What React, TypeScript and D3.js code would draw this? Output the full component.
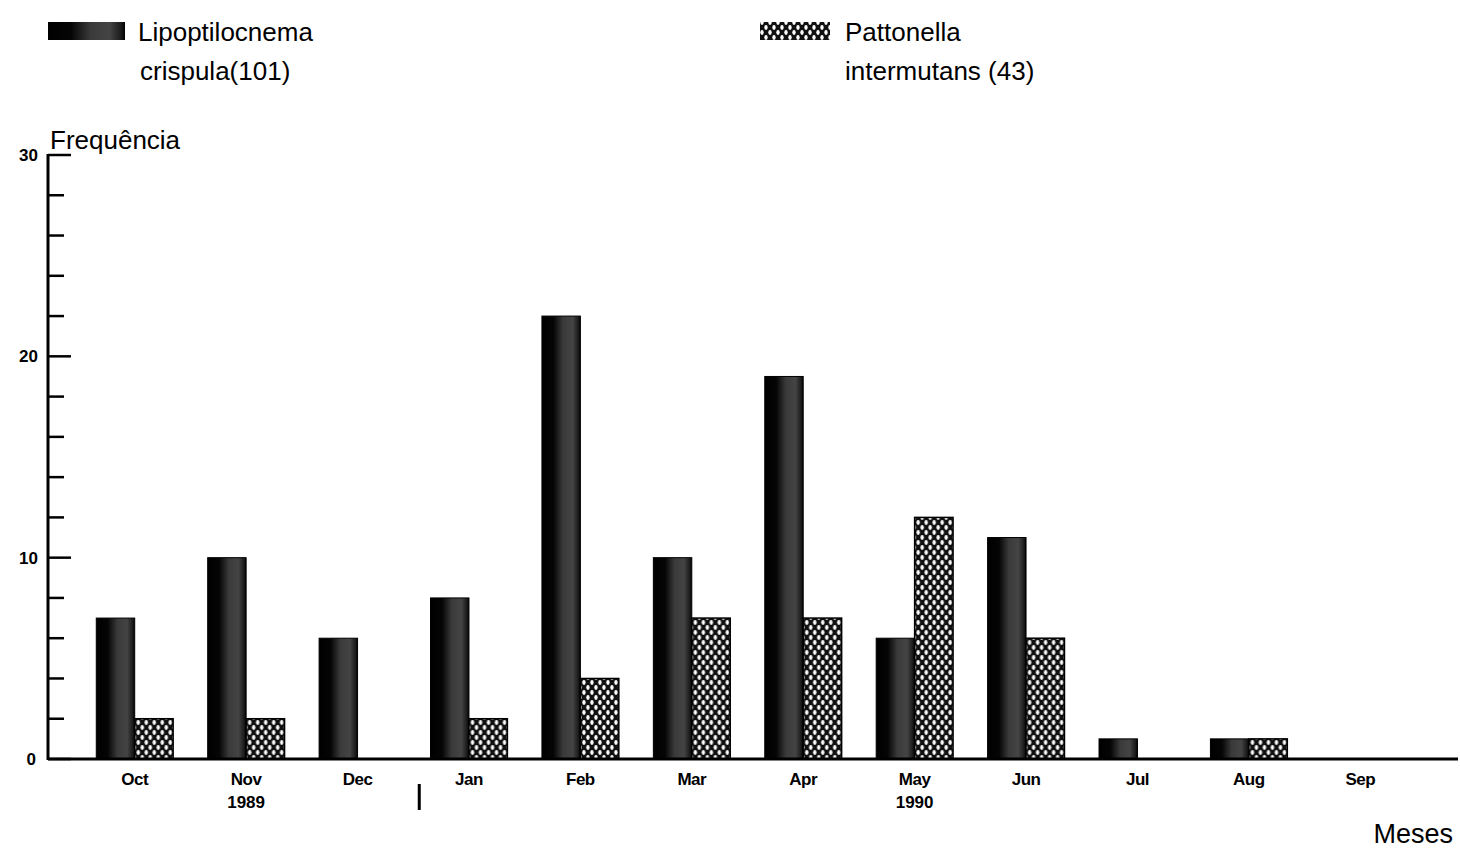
import React from "react";
import * as d3 from "d3";

const months = ["Oct", "Nov", "Dec", "Jan", "Feb", "Mar", "Apr", "May", "Jun", "Jul", "Aug", "Sep"];
const lipoptilocnema = [7, 10, 6, 8, 22, 10, 19, 6, 11, 1, 1, 0];
const pattonella = [2, 2, 0, 2, 4, 7, 7, 12, 6, 0, 1, 0];
const seriesKeys = ["lipo", "patt"];
const yTicks = [0, 10, 20, 30];
const yMinorTicks = d3.range(0, 31, 2);
const yearLabels = [
  { month: "Nov", text: "1989" },
  { month: "May", text: "1990" },
];

const W = 1460;
const H = 850;

export default function App() {
  const x = d3
    .scaleBand<string>()
    .domain(months)
    .range([79, 1416])
    .paddingInner(0.31)
    .paddingOuter(0.155);
  const xi = d3.scaleBand<string>().domain(seriesKeys).range([0, x.bandwidth()]);
  const y = d3.scaleLinear().domain([0, 30]).range([759, 155]);
  const axisX = 48;
  const font = "'Liberation Sans', Arial, sans-serif";

  const rows = months.map((m, i) => ({ m, lipo: lipoptilocnema[i], patt: pattonella[i] }));
  const dividerX = ((x("Dec") ?? 0) + (x("Jan") ?? 0) + x.bandwidth()) / 2 + 6;

  return (
    <svg width={W} height={H} style={{ position: "absolute", left: 0, top: 0, background: "#fff" }}>
      <defs>
        <linearGradient id="darkGrad" x1="0" x2="1" y1="0" y2="0">
          <stop offset="0" stopColor="#000" />
          <stop offset="0.3" stopColor="#050505" />
          <stop offset="0.55" stopColor="#3a3a3a" />
          <stop offset="0.8" stopColor="#444" />
          <stop offset="0.95" stopColor="#1a1a1a" />
          <stop offset="1" stopColor="#000" />
        </linearGradient>
        <pattern id="hatch" width="8" height="10" patternUnits="userSpaceOnUse">
          <rect width="8" height="10" fill="#111" />
          <ellipse cx="2" cy="2.5" rx="1.7" ry="2.4" fill="#fff" />
          <ellipse cx="6" cy="7.5" rx="1.7" ry="2.4" fill="#fff" />
        </pattern>
      </defs>

      {/* Legend */}
      <rect x={48} y={22} width={77} height={18} fill="url(#darkGrad)" />
      <text x={138} y={41} fontFamily={font} fontSize={26}>Lipoptilocnema</text>
      <text x={140} y={80} fontFamily={font} fontSize={26}>crispula(101)</text>
      <rect x={760} y={22} width={70} height={18} fill="url(#hatch)" />
      <text x={845} y={41} fontFamily={font} fontSize={26}>Pattonella</text>
      <text x={845} y={80} fontFamily={font} fontSize={26}>intermutans (43)</text>

      {/* Y axis title */}
      <text x={50} y={149} fontFamily={font} fontSize={26}>Frequência</text>

      {/* Bars */}
      {rows.map((r) => (
        <g key={r.m} transform={`translate(${x(r.m)},0)`}>
          {r.lipo > 0 && (
            <rect
              x={xi("lipo")}
              y={y(r.lipo)}
              width={xi.bandwidth()}
              height={y(0) - y(r.lipo)}
              fill="url(#darkGrad)"
              stroke="#000"
              strokeWidth={1}
            />
          )}
          {r.patt > 0 && (
            <rect
              x={xi("patt")}
              y={y(r.patt)}
              width={xi.bandwidth()}
              height={y(0) - y(r.patt)}
              fill="url(#hatch)"
              stroke="#000"
              strokeWidth={1.5}
            />
          )}
        </g>
      ))}

      {/* Y axis */}
      <line x1={axisX} x2={axisX} y1={y(30) - 1} y2={y(0) + 1} stroke="#000" strokeWidth={3} />
      {yMinorTicks.map((t) => (
        <line
          key={t}
          x1={axisX}
          x2={axisX + (t % 10 === 0 ? 23 : 16)}
          y1={y(t)}
          y2={y(t)}
          stroke="#000"
          strokeWidth={2.5}
        />
      ))}
      {yTicks.map((t) => (
        <text
          key={t}
          x={t === 0 ? 36 : 38}
          y={y(t) + 6}
          textAnchor="end"
          fontFamily={font}
          fontWeight="bold"
          fontSize={17}
        >
          {t}
        </text>
      ))}

      {/* X axis */}
      <line x1={axisX} x2={1458} y1={y(0)} y2={y(0)} stroke="#000" strokeWidth={3} />
      {months.map((m) => (
        <text
          key={m}
          x={(x(m) ?? 0) + x.bandwidth() / 2}
          y={785}
          textAnchor="middle"
          fontFamily={font}
          fontWeight="bold"
          fontSize={17}
          letterSpacing={-0.5}
        >
          {m}
        </text>
      ))}
      {yearLabels.map((yl) => (
        <text
          key={yl.text}
          x={(x(yl.month) ?? 0) + x.bandwidth() / 2}
          y={808}
          textAnchor="middle"
          fontFamily={font}
          fontWeight="bold"
          fontSize={17}
        >
          {yl.text}
        </text>
      ))}
      <line x1={dividerX} x2={dividerX} y1={784} y2={810} stroke="#000" strokeWidth={3} />

      <text x={1453} y={843} textAnchor="end" fontFamily={font} fontSize={27}>Meses</text>
    </svg>
  );
}
